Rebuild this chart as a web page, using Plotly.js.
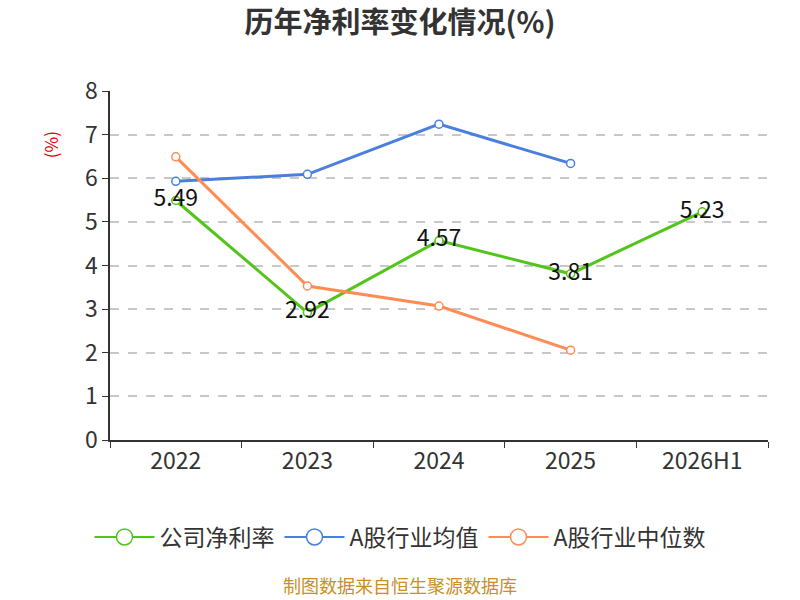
<!DOCTYPE html>
<html>
<head>
<meta charset="utf-8">
<script src="https://cdn.plot.ly/plotly-3.0.1.min.js"></script>
<style>
  body { margin: 0; background: #fff; }
  #plt { width: 800px; height: 600px; }
</style>
</head>
<body>
<div id="plt"></div>
<script>
var years = ['2022', '2023', '2024', '2025', '2026H1'];
var company = [5.49, 2.92, 4.57, 3.81, 5.23];
var industryAvg = [5.93, 6.09, 7.24, 6.34];
var industryMedian = [6.49, 3.53, 3.07, 2.06];
var yTicks = [0, 1, 2, 3, 4, 5, 6, 7, 8];

var font = '"Noto Sans CJK SC", "Noto Sans", sans-serif';

function series(name, y, color, labels){
    let t = {
        type: 'scatter',
        mode: labels ? 'lines+markers+text' : 'lines+markers',
        name: name,
        x: years.slice(0, y.length),
        y: y,
        showlegend: false,
        line: {color: color, width: 3},
        marker: {
            symbol: 'circle',
            size: 8,
            color: '#fff',
            line: {color: color, width: 1.5}
        },
        cliponaxis: false
    };
    if (labels) {
        t.text = y.map(v => v.toFixed(2));
        t.textposition = 'middle center';
        t.textfont = {family: font, size: 23, color: '#111'};
    }
    return t;
}

// legend-only copies with bigger open circles
function legendItem(name, color){
    return {
        type: 'scatter',
        mode: 'lines+markers',
        name: name,
        x: [null],
        y: [null],
        line: {color: color, width: 2},
        marker: {
            symbol: 'circle',
            size: 16,
            color: '#fff',
            line: {color: color, width: 1.5}
        }
    };
}

let d = [
    series('公司净利率', company, '#52c41a', true),
    series('A股行业均值', industryAvg, '#4a7fe0', false),
    series('A股行业中位数', industryMedian, '#ff8c55', false),
    legendItem('公司净利率', '#52c41a'),
    legendItem('A股行业均值', '#4a7fe0'),
    legendItem('A股行业中位数', '#ff8c55')
];

let l = {
    width: 800,
    height: 600,
    margin: {l: 110, r: 32, t: 91, b: 160},
    paper_bgcolor: '#fff',
    plot_bgcolor: '#fff',
    font: {family: font, color: '#333'},
    title: {
        text: '<b>历年净利率变化情况(%)</b>',
        x: 0.5,
        xanchor: 'center',
        y: 0.962,
        yanchor: 'middle',
        font: {size: 29, color: '#333', family: font}
    },
    xaxis: {
        type: 'category',
        tickson: 'boundaries',
        ticks: 'outside',
        ticklen: 6,
        tickcolor: '#333',
        showline: true,
        linecolor: '#333',
        linewidth: 1.5,
        showgrid: false,
        tickfont: {size: 23, color: '#333'},
        range: [-0.5, 4.5]
    },
    yaxis: {
        range: [0, 8],
        tickvals: yTicks,
        ticks: 'outside',
        ticklen: 6,
        tickcolor: '#333',
        showline: true,
        linecolor: '#333',
        linewidth: 1.5,
        showgrid: true,
        gridcolor: '#c8c8c8',
        griddash: 'dash',
        gridwidth: 1.5,
        zeroline: false,
        tickfont: {size: 23, color: '#333'}
    },
    showlegend: true,
    legend: {
        orientation: 'h',
        xref: 'container',
        x: 0.5,
        xanchor: 'center',
        yref: 'container',
        y: 0.105,
        yanchor: 'middle',
        itemwidth: 60,
        font: {size: 23, color: '#333'}
    },
    annotations: [
        {
            text: '(%)',
            xref: 'paper', yref: 'paper',
            x: -0.091, y: 0.845,
            xanchor: 'center',
            yanchor: 'middle',
            textangle: -90,
            showarrow: false,
            font: {size: 17, color: '#e00000', family: font}
        },
        {
            text: '制图数据来自恒生聚源数据库',
            xref: 'paper', yref: 'paper',
            x: 0.4407, y: -0.415,
            xanchor: 'center',
            yanchor: 'middle',
            showarrow: false,
            font: {size: 18, color: '#c8901e', family: font}
        }
    ]
};

let c = {displayModeBar: false};

Plotly.newPlot('plt', d, l, c);
</script>
</body>
</html>
